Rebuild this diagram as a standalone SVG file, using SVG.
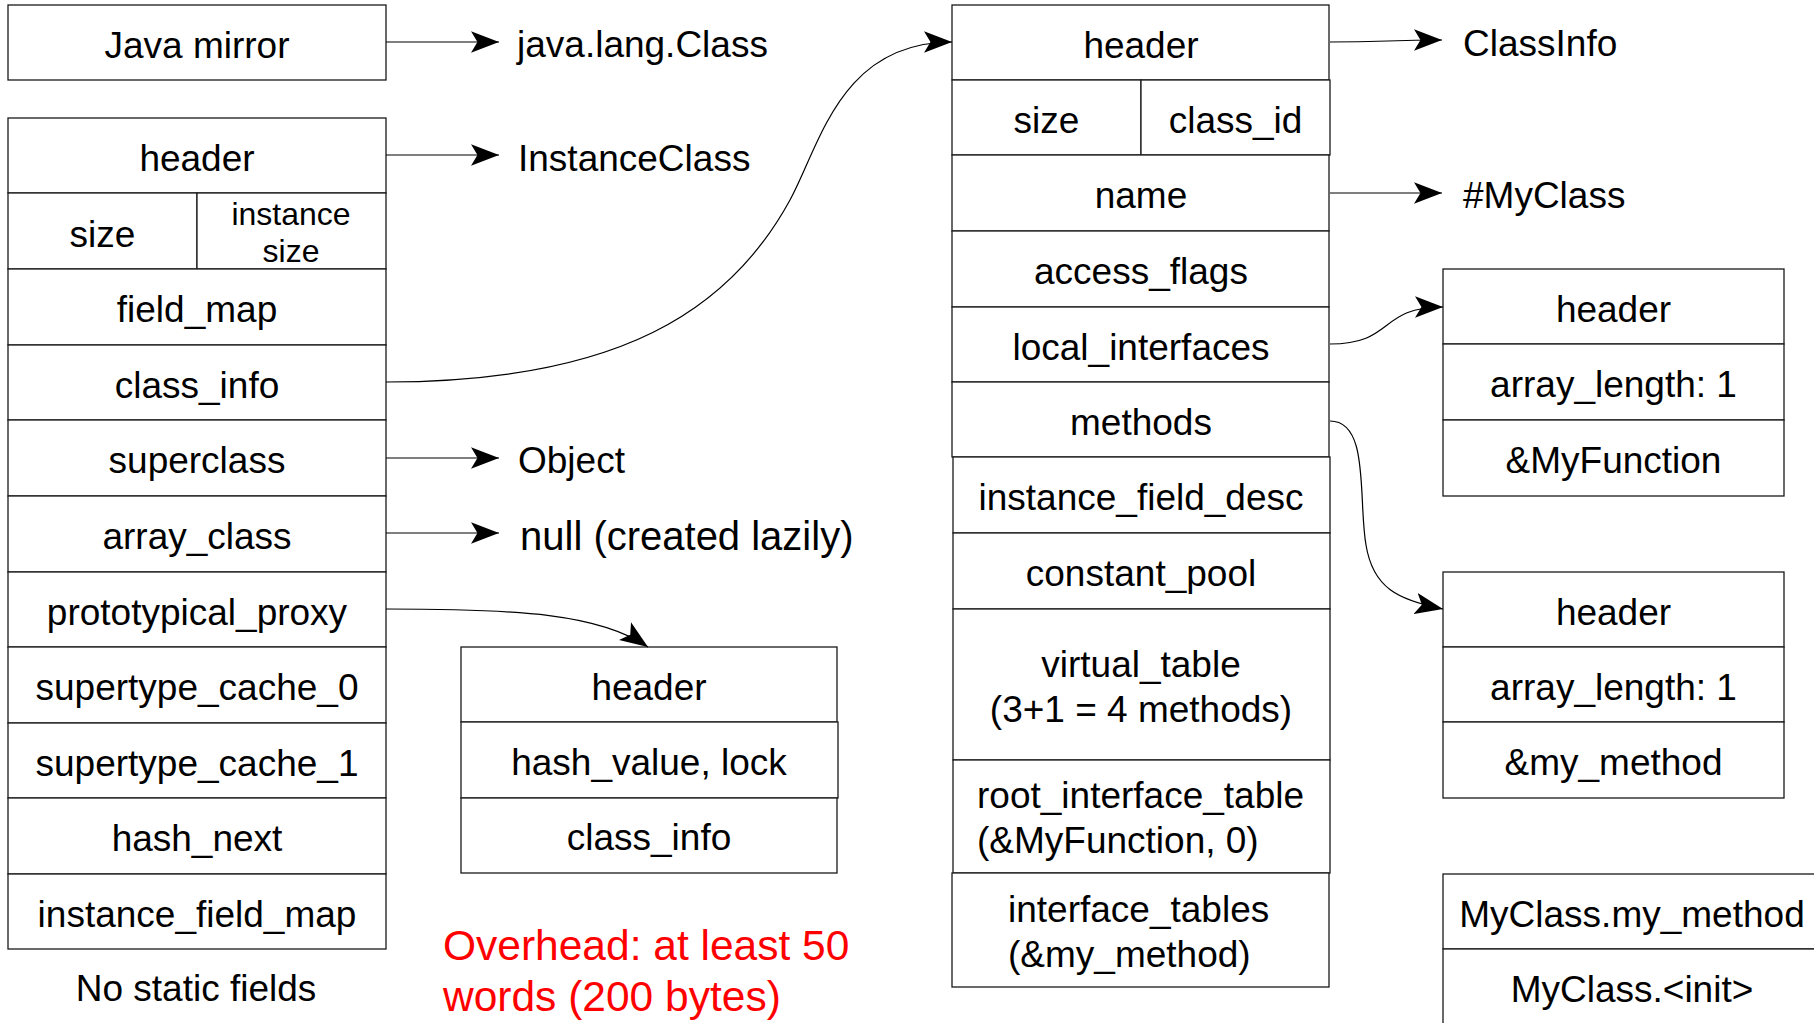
<svg xmlns="http://www.w3.org/2000/svg" width="1814" height="1023" viewBox="0 0 1814 1023">
  <style>
    .cell { fill: #ffffff; stroke: #1a1a1a; stroke-width: 1.3; }
    .t { font-family: "Liberation Sans", Arial, sans-serif; font-size: 37px; fill: #000000; text-anchor: middle; }
    .ts { font-family: "Liberation Sans", Arial, sans-serif; font-size: 32px; fill: #000000; text-anchor: middle; }
    .lbl { font-family: "Liberation Sans", Arial, sans-serif; font-size: 37px; fill: #000000; text-anchor: start; }
    .note { font-family: "Liberation Sans", Arial, sans-serif; font-size: 42.5px; fill: #ff0000; text-anchor: start; }
    .edge { fill: none; stroke: #000000; stroke-width: 1.2; marker-end: url(#arrow); }
  </style>
  <defs>
    <marker id="arrow" markerUnits="userSpaceOnUse" markerWidth="28" markerHeight="22" viewBox="0 0 26 20" refX="26" refY="10" orient="auto">
      <path d="M0,0 L26,10 L0,20 L6,10 Z" fill="#000000"/>
    </marker>
  </defs>
  <rect width="1814" height="1023" fill="#ffffff"/>

  <!-- Java mirror -->
  <g id="java-mirror">
    <rect class="cell" x="8" y="5" width="378" height="75"/>
    <text class="t" x="197" y="57.5">Java mirror</text>
  </g>

  <!-- InstanceClass object layout -->
  <g id="instance-class">
    <rect class="cell" x="8" y="118" width="378" height="75"/>
    <text class="t" x="197" y="171">header</text>
    <rect class="cell" x="8" y="193" width="189" height="76"/>
    <rect class="cell" x="197" y="193" width="189" height="76"/>
    <text class="t" x="102.5" y="247">size</text>
    <text class="ts" x="291" y="225">instance</text>
    <text class="ts" x="291" y="262">size</text>
    <rect class="cell" x="8" y="269" width="378" height="76"/>
    <text class="t" x="197" y="322">field_map</text>
    <rect class="cell" x="8" y="345" width="378" height="75"/>
    <text class="t" x="197" y="397.5">class_info</text>
    <rect class="cell" x="8" y="420" width="378" height="76"/>
    <text class="t" x="197" y="473">superclass</text>
    <rect class="cell" x="8" y="496" width="378" height="76"/>
    <text class="t" x="197" y="549">array_class</text>
    <rect class="cell" x="8" y="572" width="378" height="75"/>
    <text class="t" x="197" y="624.5">prototypical_proxy</text>
    <rect class="cell" x="8" y="647" width="378" height="76"/>
    <text class="t" x="197" y="700">supertype_cache_0</text>
    <rect class="cell" x="8" y="723" width="378" height="75"/>
    <text class="t" x="197" y="775.5">supertype_cache_1</text>
    <rect class="cell" x="8" y="798" width="378" height="76"/>
    <text class="t" x="197" y="851">hash_next</text>
    <rect class="cell" x="8" y="874" width="378" height="75"/>
    <text class="t" x="197" y="926.5">instance_field_map</text>
  </g>

  <g id="no-static-fields">
    <text class="t" x="196" y="1001">No static fields</text>
  </g>

  <!-- prototypical instance -->
  <g id="prototype">
    <rect class="cell" x="461" y="647" width="376" height="75"/>
    <text class="t" x="649" y="700">header</text>
    <rect class="cell" x="461" y="722" width="377" height="76"/>
    <text class="t" x="649" y="775">hash_value, lock</text>
    <rect class="cell" x="461" y="798" width="376" height="75"/>
    <text class="t" x="649" y="850">class_info</text>
  </g>

  <g id="overhead-note">
    <text class="note" x="443" y="960">Overhead: at least 50</text>
    <text class="note" x="443" y="1011">words (200 bytes)</text>
  </g>

  <!-- ClassInfo layout -->
  <g id="class-info">
    <rect class="cell" x="952" y="5" width="377" height="75"/>
    <text class="t" x="1141" y="57.5">header</text>
    <rect class="cell" x="952" y="80" width="189" height="75"/>
    <rect class="cell" x="1141" y="80" width="189" height="75"/>
    <text class="t" x="1046.5" y="132.5">size</text>
    <text class="t" x="1235.5" y="132.5">class_id</text>
    <rect class="cell" x="952" y="155" width="377" height="76"/>
    <text class="t" x="1141" y="208">name</text>
    <rect class="cell" x="952" y="231" width="377" height="76"/>
    <text class="t" x="1141" y="284">access_flags</text>
    <rect class="cell" x="952" y="307" width="377" height="75"/>
    <text class="t" x="1141" y="359.5">local_interfaces</text>
    <rect class="cell" x="952" y="382" width="377" height="75"/>
    <text class="t" x="1141" y="434.5">methods</text>
    <rect class="cell" x="953" y="457" width="377" height="76"/>
    <text class="t" x="1141" y="510">instance_field_desc</text>
    <rect class="cell" x="953" y="533" width="377" height="76"/>
    <text class="t" x="1141" y="586">constant_pool</text>
    <rect class="cell" x="953" y="609" width="377" height="151"/>
    <text class="t" x="1141" y="677">virtual_table</text>
    <text class="t" x="1141" y="722">(3+1 = 4 methods)</text>
    <rect class="cell" x="953" y="760" width="377" height="113"/>
    <text class="lbl" x="977" y="808">root_interface_table</text>
    <text class="lbl" x="977" y="853">(&amp;MyFunction, 0)</text>
    <rect class="cell" x="952" y="873" width="377" height="114"/>
    <text class="lbl" x="1008" y="922">interface_tables</text>
    <text class="lbl" x="1008" y="967">(&amp;my_method)</text>
  </g>

  <!-- local interfaces array -->
  <g id="interfaces-array">
    <rect class="cell" x="1443" y="269" width="341" height="75"/>
    <text class="t" x="1613.5" y="321.5">header</text>
    <rect class="cell" x="1443" y="344" width="341" height="76"/>
    <text class="t" x="1613.5" y="397">array_length: 1</text>
    <rect class="cell" x="1443" y="420" width="341" height="76"/>
    <text class="t" x="1613.5" y="473">&amp;MyFunction</text>
  </g>

  <!-- methods array -->
  <g id="methods-array">
    <rect class="cell" x="1443" y="572" width="341" height="75"/>
    <text class="t" x="1613.5" y="624.5">header</text>
    <rect class="cell" x="1443" y="647" width="341" height="75"/>
    <text class="t" x="1613.5" y="699.5">array_length: 1</text>
    <rect class="cell" x="1443" y="722" width="341" height="76"/>
    <text class="t" x="1613.5" y="775">&amp;my_method</text>
  </g>

  <!-- method objects -->
  <g id="method-objects">
    <rect class="cell" x="1443" y="874" width="380" height="75"/>
    <text class="t" x="1632" y="927">MyClass.my_method</text>
    <rect class="cell" x="1443" y="949" width="380" height="120"/>
    <text class="t" x="1632" y="1002">MyClass.&lt;init&gt;</text>
  </g>

  <!-- pointer targets named by type -->
  <g id="targets">
    <text class="lbl" x="517" y="57">java.lang.Class</text>
    <text class="lbl" x="518" y="171">InstanceClass</text>
    <text class="lbl" x="518" y="473">Object</text>
    <text class="lbl" x="520" y="550" style="font-size:40px">null (created lazily)</text>
    <text class="lbl" x="1463" y="56">ClassInfo</text>
    <text class="lbl" x="1463" y="208">#MyClass</text>
  </g>

  <!-- connectors -->
  <g id="connectors">
    <path class="edge" d="M386,42 L499,42"/>
    <path class="edge" d="M386,155 L499,155"/>
    <path class="edge" d="M386,458 L499,458"/>
    <path class="edge" d="M386,533 L499,533"/>
    <path class="edge" d="M386,382 C620,382 730,310 790,200 C820,145 840,42 952,42"/>
    <path class="edge" d="M386,609 C520,609 600,614 648,647"/>
    <path class="edge" d="M1330,42 C1385,42 1390,40 1442,40"/>
    <path class="edge" d="M1330,193 L1442,193"/>
    <path class="edge" d="M1330,344 C1395,344 1378,307 1443,307"/>
    <path class="edge" d="M1330,421 C1370,421 1358,500 1366,545 C1373,588 1398,600 1443,609"/>
  </g>
</svg>
